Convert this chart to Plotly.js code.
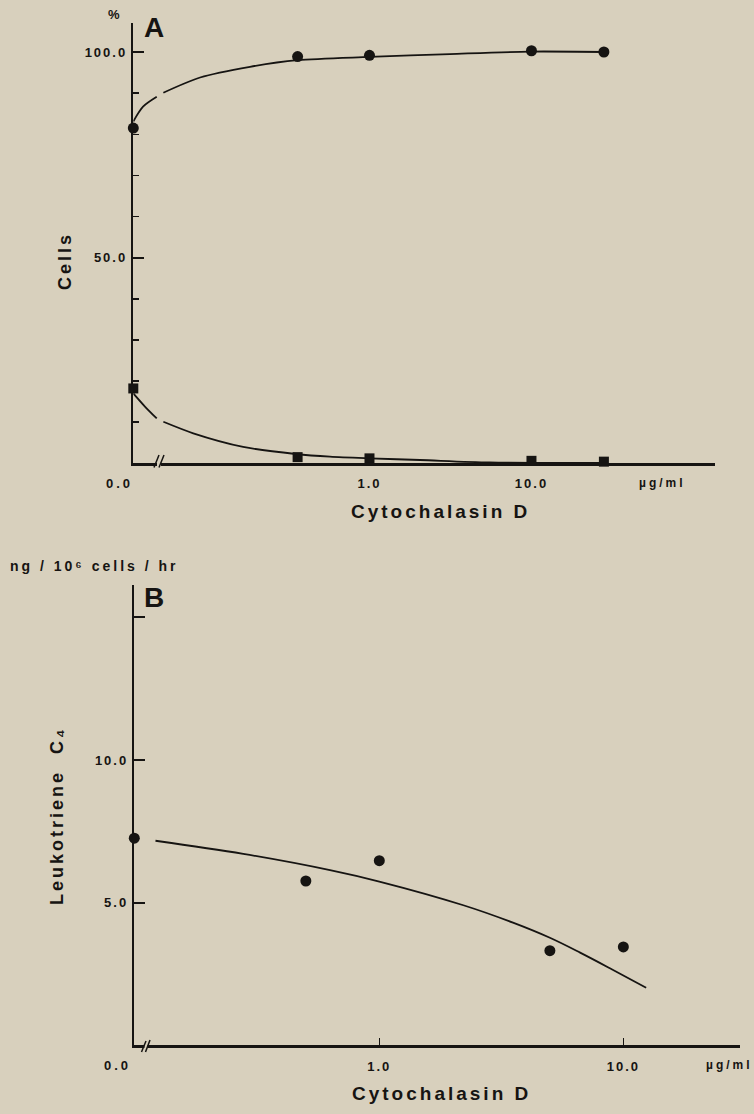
<!DOCTYPE html>
<html><head><meta charset="utf-8">
<script src="https://cdn.plot.ly/plotly-3.0.1.min.js"></script>
<style>
html,body{margin:0;padding:0;background:#d8d0bd;}
#chart{width:754px;height:1114px;}
svg text{letter-spacing:3px;}
.xtick text,.ytick text,.x2tick text,.y2tick text{letter-spacing:2px;}
</style></head><body><div id="chart"></div>
<script>
// ---------- Panel A data (% cells vs cytochalasin D, ug/ml) ----------
const doseA = [0, 0.36, 1, 10, 28];
const circlesA = [81.5, 98.9, 99.2, 100.3, 100.0];
const squaresA = [18.2, 1.5, 1.2, 0.6, 0.4];
const fitCircX = [0, 0.040, 0.0486, null, 0.0534, 0.090, 0.183, 0.36, 1.0, 3.14, 9.8, 28];
const fitCircY = [83.1, 86.7, 89.1, null, 90.1, 93.8, 96.4, 98.0, 98.8, 99.5, 100.1, 100.0];
const fitSqX = [0, 0.0411, 0.0486, null, 0.0534, 0.0817, 0.166, 0.35, 0.57, 1.0, 2.05, 5.5, 28];
const fitSqY = [17.0, 13.8, 10.9, null, 10.1, 7.3, 4.0, 2.26, 1.6, 1.2, 0.8, 0.2, 0.1];
const yTickValsA = [50, 100];
const yTickTextA = ['50.0', '100.0'];
const yMinorA = [10, 20, 30, 40, 60, 70, 80, 90];
const xTickValsA = [1, 10];
const xTickTextA = ['1.0', '10.0'];

// ---------- Panel B data (LTC4 ng/10^6 cells/hr) ----------
const doseB = [0, 0.5, 1, 5, 10];
const ltc4B = [7.26, 5.76, 6.47, 3.32, 3.45];
const fitBX = [0.121, 0.277, 0.628, 1.0, 2.21, 3.53, 5.0, 6.65, 9.0, 12.4];
const fitBY = [7.17, 6.71, 6.14, 5.74, 4.91, 4.30, 3.77, 3.25, 2.66, 2.02];
const yTickValsB = [5, 10];
const yTickTextB = ['5.0', '10.0'];
const yMinorB = [15];
const xTickValsB = [1, 10];
const xTickTextB = ['1.0', '10.0'];

// ---------- layout helpers ----------
const W = 754, H = 1114;
const px = v => v / W;
const py = v => 1 - v / H;
const INK = 'rgb(22,20,18)';
const BG = 'rgb(216,208,189)';
const FONT = 'Liberation Sans, DejaVu Sans, Arial, sans-serif';
const xRangeA = [-1.458, 2.133];
const xRangeB = [-1.004, 1.478];
const zeroTo = (arr, range) => arr.map(d => d === 0 ? Math.pow(10, range[0]) : d);

const traces = [
  {x: zeroTo(fitCircX, xRangeA), y: fitCircY, xaxis: 'x', yaxis: 'y', mode: 'lines',
   line: {color: INK, width: 1.8, shape: 'spline', smoothing: 0.8}, connectgaps: false, hoverinfo: 'skip', showlegend: false},
  {x: zeroTo(fitSqX, xRangeA), y: fitSqY, xaxis: 'x', yaxis: 'y', mode: 'lines',
   line: {color: INK, width: 1.8, shape: 'spline', smoothing: 0.8}, connectgaps: false, hoverinfo: 'skip', showlegend: false},
  {x: zeroTo(doseA, xRangeA), y: circlesA, xaxis: 'x', yaxis: 'y', mode: 'markers', cliponaxis: false,
   marker: {symbol: 'circle', size: 11, color: INK}, showlegend: false},
  {x: zeroTo(doseA, xRangeA), y: squaresA, xaxis: 'x', yaxis: 'y', mode: 'markers', cliponaxis: false,
   marker: {symbol: 'square', size: 10, color: INK}, showlegend: false},
  {x: fitBX, y: fitBY, xaxis: 'x2', yaxis: 'y2', mode: 'lines',
   line: {color: INK, width: 1.8, shape: 'spline', smoothing: 1}, hoverinfo: 'skip', showlegend: false},
  {x: zeroTo(doseB, xRangeB), y: ltc4B, xaxis: 'x2', yaxis: 'y2', mode: 'markers', cliponaxis: false,
   marker: {symbol: 'circle', size: 11, color: INK}, showlegend: false}
];

const tickFont = {family: FONT, size: 13, weight: 'bold', color: INK};
const baseAx = {showgrid: false, zeroline: false, showline: true, linecolor: INK, linewidth: 2.5,
  tickcolor: INK, tickfont: tickFont, fixedrange: true};

const layout = {
  width: W, height: H,
  margin: {l: 0, r: 0, t: 0, b: 0, pad: 0},
  paper_bgcolor: BG, plot_bgcolor: 'rgba(0,0,0,0)',
  showlegend: false,
  xaxis: Object.assign({}, baseAx, {type: 'log', domain: [px(133.3), px(715)], range: xRangeA,
    anchor: 'y', ticks: '', tickvals: xTickValsA, ticktext: xTickTextA, ticklabelstandoff: 7}),
  yaxis: Object.assign({}, baseAx, {domain: [py(463.3), py(23)], range: [0, 107.05], anchor: 'x',
    ticks: 'inside', ticklen: 11, tickwidth: 2, tickvals: yTickValsA, ticktext: yTickTextA, ticklabelstandoff: 1,
    minor: {tickvals: yMinorA, ticks: 'inside', ticklen: 6, tickwidth: 1.5, tickcolor: INK}}),
  xaxis2: Object.assign({}, baseAx, {type: 'log', domain: [px(134.3), px(740)], range: xRangeB,
    anchor: 'y2', ticks: 'inside', ticklen: 7, tickwidth: 1.5, tickvals: xTickValsB, ticktext: xTickTextB, ticklabelstandoff: 7}),
  yaxis2: Object.assign({}, baseAx, {domain: [py(1045.4), py(585)], range: [0, 16.13], anchor: 'x2',
    ticks: 'inside', ticklen: 11, tickwidth: 2, tickvals: yTickValsB, ticktext: yTickTextB, ticklabelstandoff: 1,
    minor: {tickvals: yMinorB, ticks: 'inside', ticklen: 11, tickwidth: 2, tickcolor: INK}}),
  shapes: [
    // axis break marks, panel A
    {type: 'rect', xref: 'paper', yref: 'paper', x0: px(157), x1: px(161), y0: py(466), y1: py(460), fillcolor: BG, line: {width: 0}},
    {type: 'line', xref: 'paper', yref: 'paper', x0: px(154), y0: py(467.5), x1: px(159), y1: py(455), line: {color: INK, width: 1.5}},
    {type: 'line', xref: 'paper', yref: 'paper', x0: px(159), y0: py(467.5), x1: px(164), y1: py(455), line: {color: INK, width: 1.5}},
    // axis break marks, panel B
    {type: 'rect', xref: 'paper', yref: 'paper', x0: px(144.5), x1: px(147.5), y0: py(1048), y1: py(1042.5), fillcolor: BG, line: {width: 0}},
    {type: 'line', xref: 'paper', yref: 'paper', x0: px(141.5), y0: py(1052), x1: px(146), y1: py(1041), line: {color: INK, width: 1.5}},
    {type: 'line', xref: 'paper', yref: 'paper', x0: px(145.5), y0: py(1052), x1: px(150), y1: py(1040), line: {color: INK, width: 1.5}}
  ],
  annotations: [
    {text: '%', x: px(115), y: py(15), font: {family: FONT, size: 13, weight: 'bold', color: INK}},
    {text: 'A', x: px(155), y: py(27), font: {family: FONT, size: 28, weight: 'bold', color: INK}},
    {text: 'Cells', x: px(65), y: py(261), textangle: -90, font: {family: FONT, size: 18, weight: 'bold', color: INK}},
    {text: '0.0', x: px(119), y: py(483), font: tickFont},
    {text: 'µg/ml', x: px(662), y: py(483), font: {family: FONT, size: 12, weight: 'bold', color: INK}},
    {text: 'Cytochalasin D', x: px(440), y: py(511), font: {family: FONT, size: 19, weight: 'bold', color: INK}},
    {text: 'ng / 10⁶ cells / hr', x: px(94), y: py(566), font: {family: FONT, size: 14, weight: 'bold', color: INK}},
    {text: 'B', x: px(155), y: py(597), font: {family: FONT, size: 28, weight: 'bold', color: INK}},
    {text: 'Leukotriene  C₄', x: px(57), y: py(815), textangle: -90, font: {family: FONT, size: 18, weight: 'bold', color: INK}},
    {text: '0.0', x: px(117), y: py(1065), font: tickFont},
    {text: 'µg/ml', x: px(729), y: py(1065), font: {family: FONT, size: 12, weight: 'bold', color: INK}},
    {text: 'Cytochalasin D', x: px(441), y: py(1093), font: {family: FONT, size: 19, weight: 'bold', color: INK}}
  ].map(a => Object.assign({xref: 'paper', yref: 'paper', showarrow: false, xanchor: 'center', yanchor: 'middle'}, a))
};

Plotly.newPlot('chart', traces, layout, {staticPlot: true, displayModeBar: false});
</script></body></html>
